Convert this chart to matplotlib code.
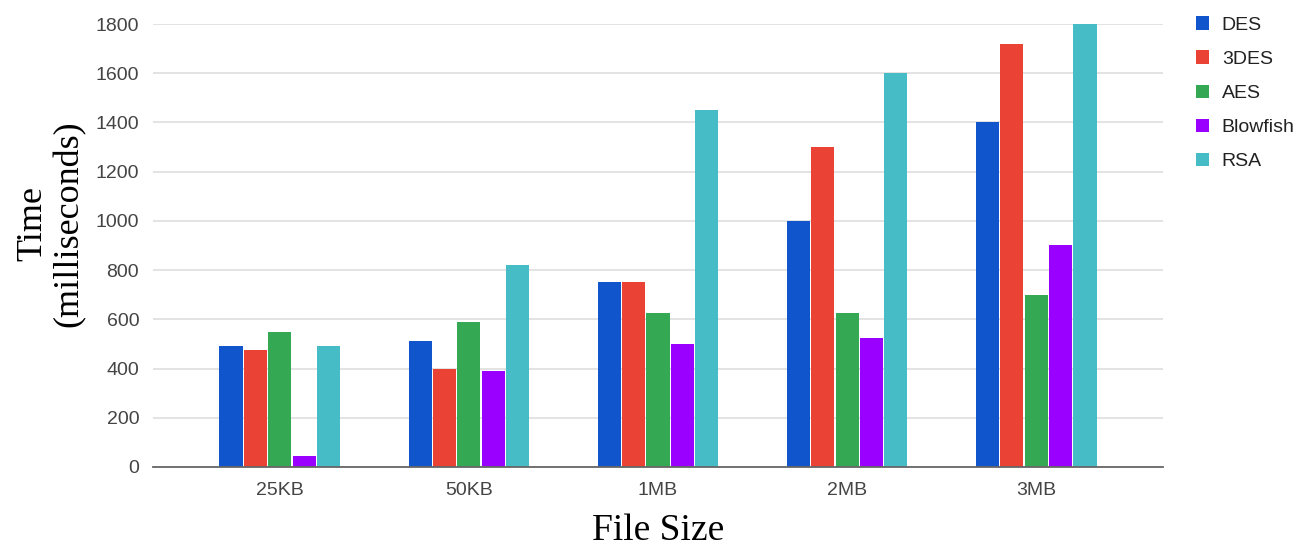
import numpy as np
from matplotlib import pyplot as plt

# encryption time per file size, in milliseconds
sizes = ["25KB", "50KB", "1MB", "2MB", "3MB"]
algos = ["DES", "3DES", "AES", "Blowfish", "RSA"]
des = [490, 510, 750, 1000, 1400]
des3 = [475, 400, 750, 1300, 1720]
aes = [550, 590, 625, 625, 700]
blowfish = [45, 390, 500, 525, 900]
rsa = [490, 820, 1450, 1600, 1800]
colors = ["#1155cc", "#ea4335", "#34a853", "#9900ff", "#46bdc6"]

series = [des, des3, aes, blowfish, rsa]

fig = plt.figure(figsize=(13.16, 5.47), dpi=100)
ax = fig.add_axes([0.1163, 0.1463, 0.7674, 0.8098])

x = np.arange(len(sizes))
step = 0.129
width = 0.122
for i, vals in enumerate(series):
    ax.bar(x + (i - 2) * step, vals, width, color=colors[i], label=algos[i], zorder=3)

ax.set_xlim(-0.67, 4.67)
ax.set_ylim(0, 1800)
ax.set_yticks(range(0, 1801, 200))
ax.set_xticks(x)
ax.set_xticklabels(sizes)
ax.yaxis.grid(True, color="#e0e0e0", linewidth=1.3, zorder=0)
for s in ["top", "right", "left"]:
    ax.spines[s].set_visible(False)
ax.spines["bottom"].set_color("#666666")
ax.spines["bottom"].set_linewidth(1.3)
ax.spines["bottom"].set_zorder(4)
ax.tick_params(axis="both", length=0, labelsize=14, labelcolor="#444444",
               labelfontfamily="Liberation Sans")
ax.tick_params(axis="y", pad=10)
ax.tick_params(axis="x", pad=11)

ax.set_xlabel("File Size", family="Liberation Serif", fontsize=27, labelpad=10)
ax.set_ylabel("Time\n(milliseconds)", family="Liberation Serif", fontsize=26,
              linespacing=1.1)
ax.yaxis.set_label_coords(-0.067, 0.549)

leg = ax.legend(loc="upper left", bbox_to_anchor=(1.015, 1.057), frameon=False,
                prop={"family": "Liberation Sans", "size": 14}, handlelength=0.7,
                handleheight=0.7, handletextpad=0.65, labelspacing=0.85)
for t in leg.get_texts():
    t.set_color("#222222")

fig.savefig("out.png", dpi=100)
